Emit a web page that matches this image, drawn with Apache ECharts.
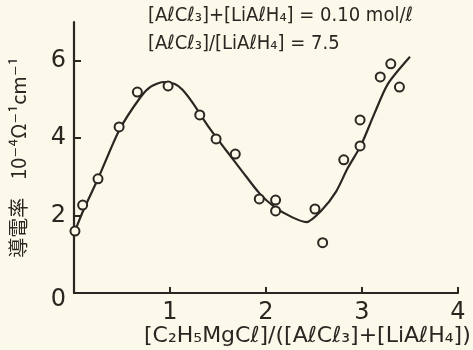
<!DOCTYPE html>
<html>
<head>
<meta charset="utf-8">
<script src="https://cdn.jsdelivr.net/npm/echarts@6/dist/echarts.min.js"></script>
<style>
  html, body { margin: 0; padding: 0; background: #fbf9ea; }
  #chart { width: 473px; height: 350px; }
</style>
</head>
<body>
<div id="chart"></div>
<script>
// Conductivity vs. Grignard ratio: measured points
const ratioMeasured = [0.01, 0.09, 0.25, 0.47, 0.66, 0.98, 1.31, 1.48, 1.68, 1.93, 2.10, 2.10, 2.51, 2.59, 2.81, 2.98, 2.98, 3.19, 3.30, 3.39];
const condMeasured  = [1.60, 2.27, 2.95, 4.29, 5.19, 5.35, 4.60, 3.98, 3.59, 2.43, 2.40, 2.12, 2.17, 1.30, 3.44, 3.80, 4.47, 5.58, 5.92, 5.32];

// Hand-drawn trend curve through the data
const ratioCurve = [0.01, 0.10, 0.25, 0.47, 0.69, 0.80, 0.93, 1.05, 1.13, 1.24, 1.40, 1.58, 1.75, 1.93, 2.09, 2.27, 2.42, 2.58, 2.73, 2.85, 2.99, 3.13, 3.27, 3.50];
const condCurve  = [1.60, 2.15, 2.95, 4.20, 5.05, 5.33, 5.45, 5.40, 5.25, 4.90, 4.30, 3.70, 3.15, 2.58, 2.22, 1.96, 1.83, 2.14, 2.62, 3.22, 3.82, 4.64, 5.40, 6.10];

const xTicks = [0, 1, 2, 3, 4];
const yTicks = [0, 2, 4, 6];

const ink = '#2b2622';
const paper = '#fbf9ea';
const numFont = '"DejaVu Sans", sans-serif';
const noteFont = '"DejaVu Sans Condensed", "DejaVu Sans", sans-serif';

const chart = echarts.init(document.getElementById('chart'));
chart.setOption({
  backgroundColor: paper,
  animation: false,
  grid: { left: 70, right: 15, top: 22, bottom: 57 },
  xAxis: {
    type: 'value',
    min: xTicks[0], max: xTicks[xTicks.length - 1], interval: 1,
    axisLine: { lineStyle: { color: ink, width: 2.2 } },
    axisTick: { inside: true, length: 6, lineStyle: { color: ink, width: 2 }, customValues: xTicks.slice(1) },
    axisLabel: {
      color: ink, fontSize: 24, fontFamily: numFont, margin: 8,
      customValues: xTicks.slice(1)
    },
    splitLine: { show: false }
  },
  yAxis: {
    type: 'value',
    min: 0, max: 7, interval: 1,
    axisLine: { lineStyle: { color: ink, width: 2.2 } },
    axisTick: { inside: true, length: 7, lineStyle: { color: ink, width: 2 }, customValues: yTicks.slice(1) },
    axisLabel: {
      color: ink, fontSize: 24, fontFamily: numFont, margin: 8,
      customValues: yTicks,
      formatter: v => (v === 0 ? '{z|0}' : String(v)),
      rich: { z: { fontSize: 24, fontFamily: numFont, color: ink, padding: [14, 0, 0, 0] } }
    },
    splitLine: { show: false },
    name: '導電率    10⁻⁴Ω⁻¹cm⁻¹',
    nameLocation: 'middle',
    nameRotate: 90,
    nameGap: 46,
    nameTextStyle: { color: ink, fontSize: 20, fontFamily: '"Noto Sans CJK JP", "DejaVu Sans", sans-serif' }
  },
  series: [
    {
      type: 'line',
      data: ratioCurve.map((x, i) => [x, condCurve[i]]),
      smooth: 0.25,
      showSymbol: false,
      lineStyle: { color: ink, width: 2.2 },
      z: 2
    },
    {
      type: 'scatter',
      data: ratioMeasured.map((x, i) => [x, condMeasured[i]]),
      symbol: 'circle',
      symbolSize: 9,
      itemStyle: { color: paper, borderColor: ink, borderWidth: 2, opacity: 1 },
      z: 3
    }
  ],
  graphic: [
    {
      type: 'text', left: 148, top: 6,
      style: { text: '[AℓCℓ₃]+[LiAℓH₄] = 0.10 mol/ℓ', fill: ink, fontSize: 20, fontFamily: noteFont }
    },
    {
      type: 'text', left: 148, top: 34,
      style: { text: '[AℓCℓ₃]/[LiAℓH₄] = 7.5', fill: ink, fontSize: 20, fontFamily: noteFont }
    },
    {
      type: 'text', left: 144, top: 325,
      style: { text: '[C₂H₅MgCℓ]/([AℓCℓ₃]+[LiAℓH₄])', fill: ink, fontSize: 22, fontFamily: numFont }
    }
  ]
});
</script>
</body>
</html>
